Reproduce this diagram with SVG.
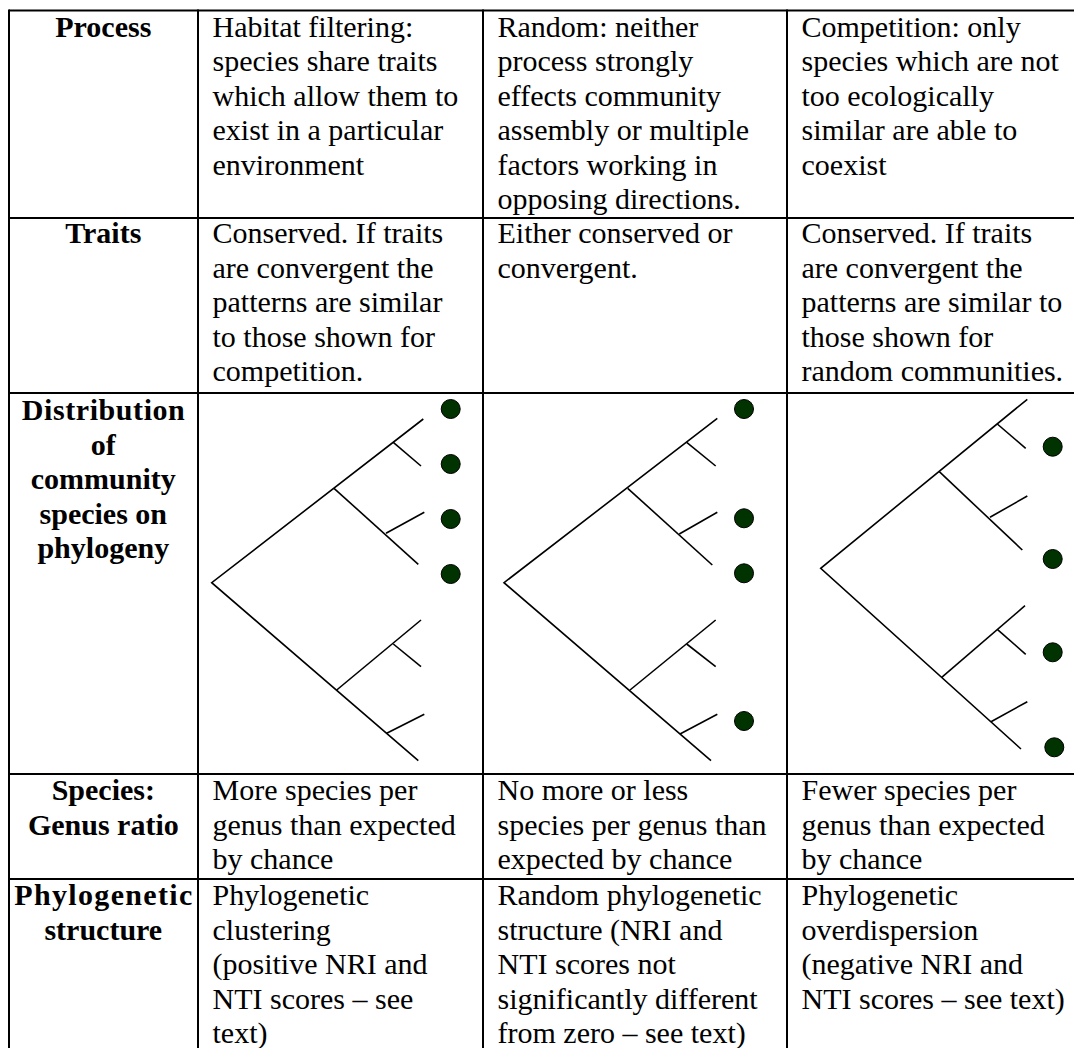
<svg xmlns="http://www.w3.org/2000/svg" width="1074" height="1048" viewBox="0 0 1074 1048">
<style>
  .grid { stroke: #000; stroke-width: 2; fill: none; }
  .t { font-family: "Liberation Serif", "Times New Roman", serif; font-size: 30px; fill: #000; }
  .h { font-family: "Liberation Serif", "Times New Roman", serif; font-size: 30px; font-weight: bold; fill: #000; text-anchor: middle; }
  .br { stroke: #000; stroke-width: 1.6; fill: none; stroke-linecap: butt; }
  .dot { fill: #003300; stroke: #000; stroke-width: 1; }
</style>
<rect width="1074" height="1048" fill="#fff"/>

<g id="grid" class="grid">
  <line x1="9" y1="10.5" x2="1076" y2="10.5"/>
  <line x1="9" y1="218" x2="1076" y2="218"/>
  <line x1="9" y1="393" x2="1076" y2="393"/>
  <line x1="9" y1="774" x2="1076" y2="774"/>
  <line x1="9" y1="879" x2="1076" y2="879"/>
  <line x1="9" y1="9.5" x2="9" y2="1050"/>
  <line x1="198" y1="9.5" x2="198" y2="1050"/>
  <line x1="483" y1="9.5" x2="483" y2="1050"/>
  <line x1="787" y1="9.5" x2="787" y2="1050"/>
</g>

<g id="row-process">
  <text class="h" x="103.3" y="36.5">Process</text>
  <text class="t"><tspan x="212.5" y="36.5">Habitat filtering:</tspan><tspan x="212.5" y="71">species share traits</tspan><tspan x="212.5" y="105.5">which allow them to</tspan><tspan x="212.5" y="140">exist in a particular</tspan><tspan x="212.5" y="174.5">environment</tspan></text>
  <text class="t"><tspan x="497.5" y="36.5">Random: neither</tspan><tspan x="497.5" y="71">process strongly</tspan><tspan x="497.5" y="105.5">effects community</tspan><tspan x="497.5" y="140">assembly or multiple</tspan><tspan x="497.5" y="174.5">factors working in</tspan><tspan x="497.5" y="209">opposing directions.</tspan></text>
  <text class="t"><tspan x="801.5" y="36.5">Competition: only</tspan><tspan x="801.5" y="71">species which are not</tspan><tspan x="801.5" y="105.5">too ecologically</tspan><tspan x="801.5" y="140">similar are able to</tspan><tspan x="801.5" y="174.5">coexist</tspan></text>
</g>

<g id="row-traits">
  <text class="h" x="103.3" y="243">Traits</text>
  <text class="t"><tspan x="212.5" y="243">Conserved. If traits</tspan><tspan x="212.5" y="277.5">are convergent the</tspan><tspan x="212.5" y="312">patterns are similar</tspan><tspan x="212.5" y="346.5">to those shown for</tspan><tspan x="212.5" y="381">competition.</tspan></text>
  <text class="t"><tspan x="497.5" y="243">Either conserved or</tspan><tspan x="497.5" y="277.5">convergent.</tspan></text>
  <text class="t"><tspan x="801.5" y="243">Conserved. If traits</tspan><tspan x="801.5" y="277.5">are convergent the</tspan><tspan x="801.5" y="312">patterns are similar to</tspan><tspan x="801.5" y="346.5">those shown for</tspan><tspan x="801.5" y="381">random communities.</tspan></text>
</g>

<g id="row-distribution">
  <text class="h"><tspan x="103.3" y="420" textLength="163" lengthAdjust="spacing">Distribution</tspan><tspan x="103.3" y="454.5">of</tspan><tspan x="103.3" y="489">community</tspan><tspan x="103.3" y="523.5">species on</tspan><tspan x="103.3" y="558">phylogeny</tspan></text>

  <g id="tree-habitat">
    <path class="br" d="M423.3,419 L211.7,582.7 L418.3,760.7"/>
    <path class="br" d="M393.3,442.3 L421,466"/>
    <path class="br" d="M334,488.3 L418.3,564.3"/>
    <path class="br" d="M386,533.3 L424.3,512.3"/>
    <path class="br" d="M336.7,690 L421,620"/>
    <path class="br" d="M393.3,644 L421,666.7"/>
    <path class="br" d="M386.7,733.3 L424.3,714.3"/>
    <circle class="dot" cx="450.7" cy="409" r="9.5"/>
    <circle class="dot" cx="450.7" cy="464" r="9.5"/>
    <circle class="dot" cx="450.7" cy="519" r="9.5"/>
    <circle class="dot" cx="450.7" cy="574" r="9.5"/>
  </g>

  <g id="tree-random">
    <path class="br" d="M717.3,418.3 L504,582.7 L711,760.7"/>
    <path class="br" d="M686.7,442.3 L715.7,466"/>
    <path class="br" d="M627.7,488.3 L712.3,565"/>
    <path class="br" d="M679.3,534 L717.3,512.3"/>
    <path class="br" d="M630,690 L715.7,620"/>
    <path class="br" d="M686.7,644 L715.7,666.7"/>
    <path class="br" d="M680,734 L717.3,714.3"/>
    <circle class="dot" cx="744" cy="409" r="9.5"/>
    <circle class="dot" cx="744" cy="518.3" r="9.5"/>
    <circle class="dot" cx="744" cy="573.3" r="9.5"/>
    <circle class="dot" cx="744" cy="721" r="9.5"/>
  </g>

  <g id="tree-competition">
    <path class="br" d="M1027.3,399.3 L820.7,568.3 L1021,749"/>
    <path class="br" d="M997.3,424 L1025.7,448.3"/>
    <path class="br" d="M939.3,471.7 L1022.3,550"/>
    <path class="br" d="M990,517.3 L1027.3,496"/>
    <path class="br" d="M941.7,677.3 L1025,605.7"/>
    <path class="br" d="M997.3,629.3 L1025.7,654.3"/>
    <path class="br" d="M991,721.7 L1027.3,701.7"/>
    <circle class="dot" cx="1052.7" cy="446.7" r="9.5"/>
    <circle class="dot" cx="1052.7" cy="559" r="9.5"/>
    <circle class="dot" cx="1052.7" cy="652.3" r="9.5"/>
    <circle class="dot" cx="1054.3" cy="747.3" r="9.5"/>
  </g>
</g>

<g id="row-ratio">
  <text class="h"><tspan x="103.3" y="800">Species:</tspan><tspan x="103.3" y="834.5">Genus ratio</tspan></text>
  <text class="t"><tspan x="212.5" y="800">More species per</tspan><tspan x="212.5" y="834.5">genus than expected</tspan><tspan x="212.5" y="869">by chance</tspan></text>
  <text class="t"><tspan x="497.5" y="800">No more or less</tspan><tspan x="497.5" y="834.5">species per genus than</tspan><tspan x="497.5" y="869">expected by chance</tspan></text>
  <text class="t"><tspan x="801.5" y="800">Fewer species per</tspan><tspan x="801.5" y="834.5">genus than expected</tspan><tspan x="801.5" y="869">by chance</tspan></text>
</g>

<g id="row-structure">
  <text class="h"><tspan x="103.3" y="905" textLength="178" lengthAdjust="spacing">Phylogenetic</tspan><tspan x="103.3" y="939.5">structure</tspan></text>
  <text class="t"><tspan x="212.5" y="905">Phylogenetic</tspan><tspan x="212.5" y="939.5">clustering</tspan><tspan x="212.5" y="974">(positive NRI and</tspan><tspan x="212.5" y="1008.5">NTI scores – see</tspan><tspan x="212.5" y="1043">text)</tspan></text>
  <text class="t"><tspan x="497.5" y="905">Random phylogenetic</tspan><tspan x="497.5" y="939.5">structure (NRI and</tspan><tspan x="497.5" y="974">NTI scores not</tspan><tspan x="497.5" y="1008.5">significantly different</tspan><tspan x="497.5" y="1043">from zero – see text)</tspan></text>
  <text class="t"><tspan x="801.5" y="905">Phylogenetic</tspan><tspan x="801.5" y="939.5">overdispersion</tspan><tspan x="801.5" y="974">(negative NRI and</tspan><tspan x="801.5" y="1008.5">NTI scores – see text)</tspan></text>
</g>
</svg>
